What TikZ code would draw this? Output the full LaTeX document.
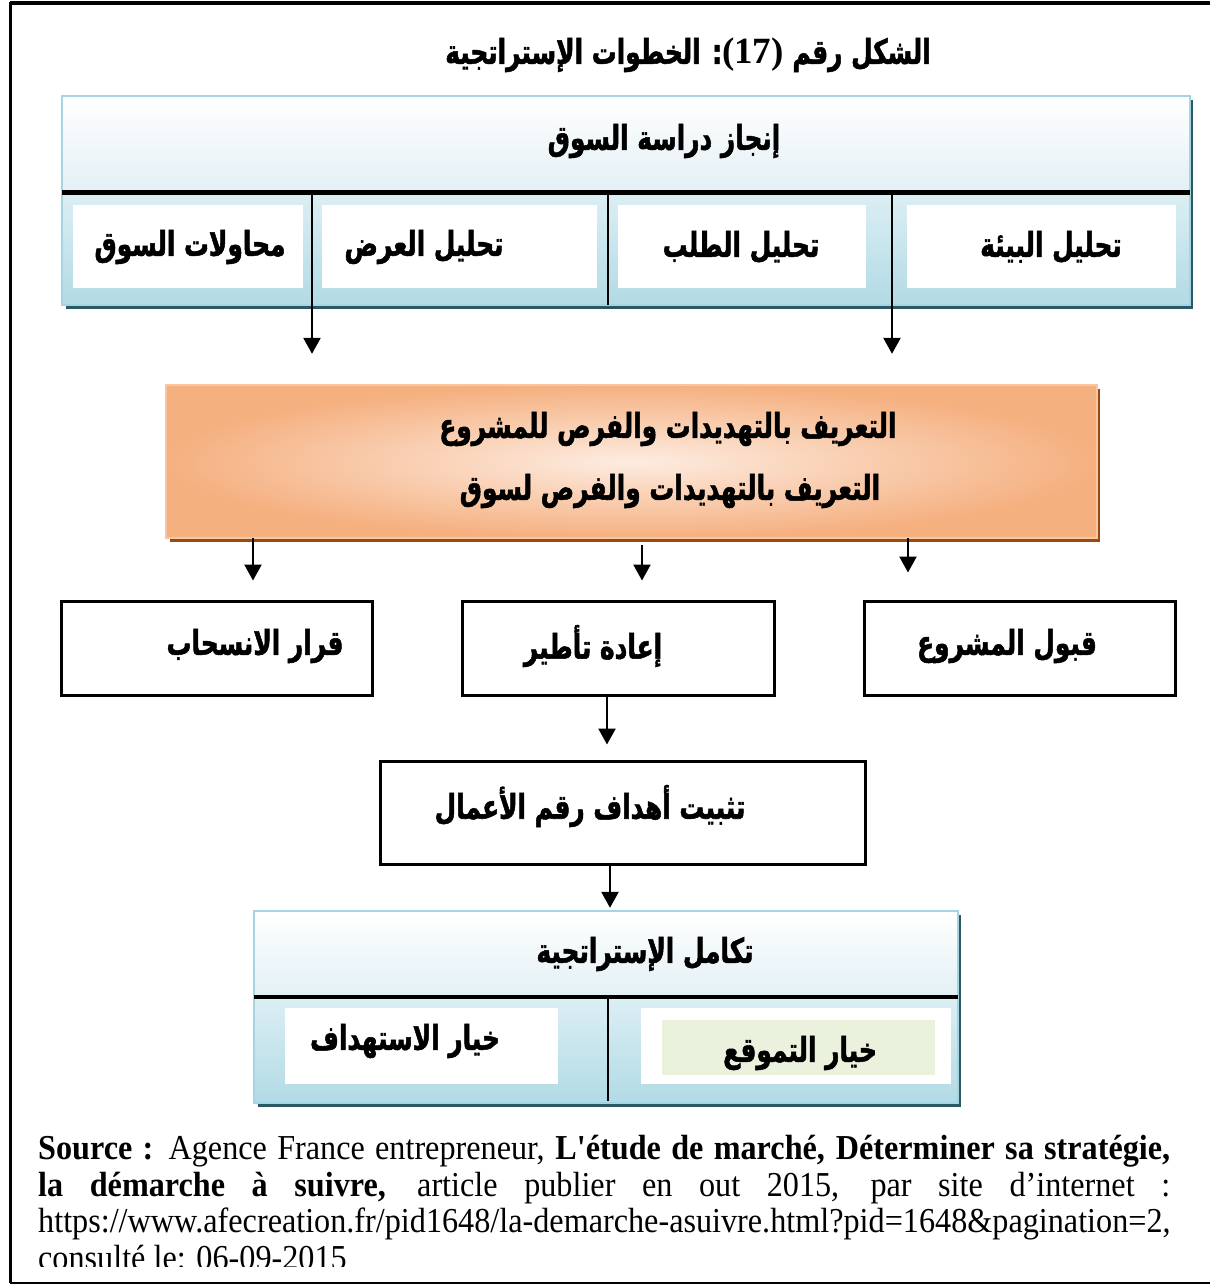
\documentclass[tikz,border=0pt]{standalone}
\usepackage{fontspec}
\setmainfont{Liberation Serif}
\newfontfamily\srcfont{Liberation Serif}[FakeStretch=0.92]
\newfontfamily\arabicfont[Script=Arabic, FakeStretch=0.73, FakeBold=1.5]{DejaVu Sans}
\TeXXeTstate=1
\usetikzlibrary{arrows.meta}

\definecolor{frameblue}{HTML}{A3D5E2}
\definecolor{hdtop}{HTML}{FFFFFF}
\definecolor{hdbot}{HTML}{E3F0F5}
\definecolor{lotop}{HTML}{DCEFF4}
\definecolor{lobot}{HTML}{B2DAE5}
\definecolor{blueshadow}{HTML}{2C5866}
\definecolor{orin}{HTML}{FDECE1}
\definecolor{orout}{HTML}{F5B080}
\definecolor{orframe}{HTML}{F9C6A0}
\definecolor{orshadow}{HTML}{994A12}
\definecolor{paleleaf}{HTML}{EAF1DD}

\newcommand\artxt[1]{{\arabicfont\bfseries\beginR #1\endR}}

\tikzset{
  x=1pt, y=-1pt,
  lbl/.style={font=\fontsize{34}{38}\selectfont, inner sep=0pt},
  cell/.style={fill=white, draw=none, inner sep=0pt},
  plainbox/.style={draw=black, line width=3pt, fill=white, inner sep=0pt},
  divider/.style={line width=2.5pt},
  flow/.style={line width=2.5pt, -{Triangle[length=16pt,width=17pt]}},
}

\begin{document}
\begin{tikzpicture}
\useasboundingbox (0,0) rectangle (1210,1286);
\fill[white] (0,0) rectangle (1210,1286);

% page frame
\draw[line width=4pt] (10,3) -- (1210,3);
\draw[line width=3pt] (10,1.5) -- (10,1283);
\draw[line width=2pt] (10,1283) -- (1210,1283);

% title
\node[lbl] (title) at (688,55)
  {\artxt{الشكل رقم \beginL{\rmfamily\bfseries\fontsize{37}{40}\selectfont (17)}\endL: الخطوات الإستراتجية}};

% ---------- market study block ----------
\fill[blueshadow] (66,100) rectangle (1193,309);
\shade[top color=hdtop, bottom color=hdbot] (62,96) rectangle (1190,192);
\shade[top color=lotop, bottom color=lobot] (62,192) rectangle (1190,305);
\draw[frameblue, line width=2.5pt] (62,96) rectangle (1190,305);
\node[inner sep=0pt, minimum width=1128pt, minimum height=209pt] (study) at (626,200.5) {};
\node[lbl] (studyhead) at (664,141) {\artxt{إنجاز دراسة السوق}};

\node[cell, minimum width=230pt, minimum height=83pt] (trials) at (188,246.5) {};
\node[cell, minimum width=275pt, minimum height=83pt] (supply) at (459.5,246.5) {};
\node[cell, minimum width=248pt, minimum height=83pt] (demand) at (742,246.5) {};
\node[cell, minimum width=269pt, minimum height=83pt] (environ) at (1041.5,246.5) {};
\node[lbl] (trialst) at (190,247) {\artxt{محاولات السوق}};
\node[lbl] (supplyt) at (424,247) {\artxt{تحليل العرض}};
\node[lbl] (demandt) at (741,247) {\artxt{تحليل الطلب}};
\node[lbl] (environt) at (1051,247) {\artxt{تحليل البيئة}};

\draw[line width=5pt] (study.west |- 0,192) -- (study.east |- 0,192);
\draw[divider] (608,192) -- (608,305);

% ---------- threats and opportunities ----------
\fill[orshadow] (170,389) rectangle (1100,542);
\shade[shading=radial, inner color=orin, outer color=orout] (166,385) rectangle (1097,538);
\draw[orframe, line width=2.5pt] (166,385) rectangle (1097,538);
\node[inner sep=0pt, minimum width=931pt, minimum height=153pt] (threat) at (631.5,461.5) {};
\node[lbl] (threatA) at (668,429) {\artxt{التعريف بالتهديدات والفرص للمشروع}};
\node[lbl] (threatB) at (670,491) {\artxt{التعريف بالتهديدات والفرص لسوق}};

\draw[flow, shorten >=31pt] (312,192) -- (312,0 |- threat.north);
\draw[flow, shorten >=31pt] (892,192) -- (892,0 |- threat.north);

% ---------- decisions ----------
\node[plainbox, minimum width=311pt, minimum height=94pt] (withdraw) at (216.5,648) {};
\node[plainbox, minimum width=312pt, minimum height=94pt] (reframe) at (618,648) {};
\node[plainbox, minimum width=311pt, minimum height=94pt] (accept) at (1019.5,648) {};
\node[lbl] (withdrawt) at (255,646) {\artxt{قرار الانسحاب}};
\node[lbl] (reframet) at (593,646) {\artxt{إعادة تأطير}};
\node[lbl] (acceptt) at (1007,646) {\artxt{قبول المشروع}};

\draw[flow, shorten >=19pt] (253,0 |- threat.south) -- (253,0 |- withdraw.north);
\draw[flow, shorten >=19pt, shorten <=7pt] (642,0 |- threat.south) -- (642,0 |- reframe.north);
\draw[flow, shorten >=27pt] (908,0 |- threat.south) -- (908,0 |- accept.north);

% ---------- sales targets ----------
\node[plainbox, minimum width=485pt, minimum height=103pt] (goals) at (622.5,812.5) {};
\node[lbl] (goalst) at (590,806) {\artxt{تثبيت أهداف رقم الأعمال}};
\draw[flow, shorten >=15pt] ([xshift=-11pt]reframe.south) -- ([xshift=-15.5pt]goals.north);

% ---------- strategy integration ----------
\fill[blueshadow] (258,915) rectangle (961,1107);
\shade[top color=hdtop, bottom color=hdbot] (254,911) rectangle (958,997);
\shade[top color=lotop, bottom color=lobot] (254,997) rectangle (958,1103);
\draw[frameblue, line width=2.5pt] (254,911) rectangle (958,1103);
\node[inner sep=0pt, minimum width=704pt, minimum height=192pt] (integr) at (606,1007) {};
\node[lbl] (integrt) at (645,954) {\artxt{تكامل الإستراتجية}};
\draw[line width=4pt] (254,997) -- (958,997);
\draw[divider] (608,997) -- (608,1101);
\node[cell, minimum width=273pt, minimum height=76pt] (target) at (421.5,1046) {};
\node[cell, minimum width=310pt, minimum height=76pt] (position) at (796,1046) {};
\fill[paleleaf] (662,1020) rectangle (935,1075);
\node[lbl] (targett) at (405,1041) {\artxt{خيار الاستهداف}};
\node[lbl] (positiont) at (800,1053) {\artxt{خيار التموقع}};
\draw[flow, shorten >=3pt] ([xshift=-12.5pt]goals.south) -- ([xshift=4pt]integr.north);

% ---------- source ----------
\begin{scope}
\clip (12,1120) rectangle (1210,1266);
\node[anchor=north west, inner sep=0pt, text width=1132pt, align=justify,
      font=\srcfont\fontsize{35}{36.6}\selectfont] (source) at (38,1135)
{\textbf{Source :} Agence France entrepreneur, \textbf{L'étude de marché, Déterminer sa stratégie,}\linebreak
\textbf{la démarche à suivre,} article publier en out 2015, par site d’internet :\linebreak
https://www.afecreation.fr/pid1648/la-demarche-asuivre.html?pid=1648\&pagination=2,\linebreak
consulté le: 06-09-2015};
\end{scope}
\end{tikzpicture}
\end{document}
